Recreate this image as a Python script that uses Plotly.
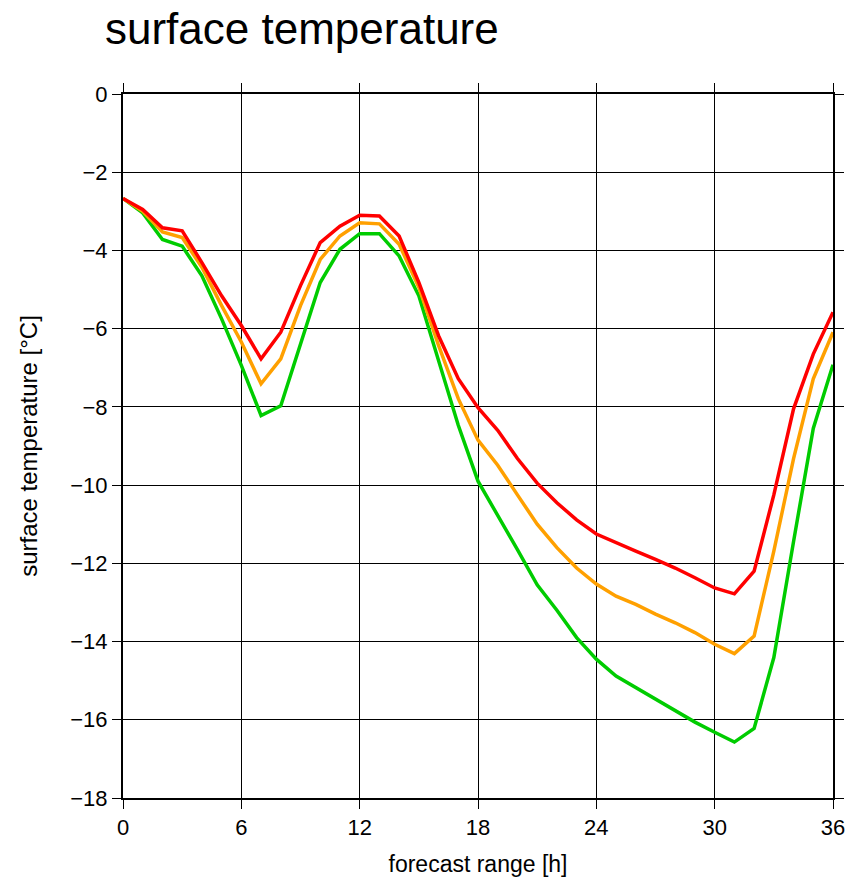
import plotly.graph_objects as go

hours = list(range(0, 37))
red = [-2.67, -2.95, -3.42, -3.50, -4.31, -5.16, -5.92, -6.77, -6.09, -4.90,
       -3.80, -3.38, -3.10, -3.12, -3.63, -4.82, -6.18, -7.28, -8.02, -8.60,
       -9.32, -9.95, -10.45, -10.89, -11.25, -11.48, -11.69, -11.90, -12.12, -12.37,
       -12.63, -12.78, -12.20, -10.25, -8.05, -6.65, -5.58]
orange = [-2.67, -3.00, -3.53, -3.67, -4.43, -5.41, -6.34, -7.41, -6.77, -5.41,
          -4.23, -3.63, -3.29, -3.32, -3.84, -4.94, -6.43, -7.79, -8.85, -9.49,
          -10.25, -11.00, -11.60, -12.12, -12.53, -12.84, -13.05, -13.30, -13.52, -13.77,
          -14.07, -14.31, -13.86, -11.69, -9.32, -7.28, -6.09]
green = [-2.67, -3.04, -3.72, -3.89, -4.65, -5.75, -6.94, -8.22, -7.97, -6.43,
         -4.82, -3.97, -3.57, -3.57, -4.14, -5.16, -6.85, -8.47, -9.90, -10.76,
         -11.65, -12.55, -13.20, -13.90, -14.45, -14.88, -15.17, -15.47, -15.77, -16.06,
         -16.32, -16.57, -16.22, -14.41, -11.44, -8.55, -6.92]

x_ticks = [0, 6, 12, 18, 24, 30, 36]
y_ticks = [0, -2, -4, -6, -8, -10, -12, -14, -16, -18]

FONT = "Liberation Sans, Arial, sans-serif"

fig = go.Figure()
for vals, col in [(green, "#00cc00"), (orange, "#ffa000"), (red, "#ff0000")]:
    fig.add_trace(go.Scatter(x=hours, y=vals, mode="lines",
                             line=dict(color=col, width=3.5), showlegend=False))

axis_common = dict(showgrid=True, gridcolor="black", gridwidth=1,
                   showline=True, linecolor="black", linewidth=2, mirror="ticks",
                   ticks="outside", ticklen=9, tickcolor="black", tickwidth=1,
                   zeroline=False,
                   tickfont=dict(family=FONT, size=22, color="black"))

fig.update_xaxes(range=[0, 36], tickvals=x_ticks,
                 title=dict(text="forecast range [h]", standoff=16,
                            font=dict(family=FONT, size=23, color="black")),
                 **axis_common)
fig.update_yaxes(range=[-18, 0], tickvals=y_ticks,
                 title=dict(text="surface temperature [°C]", standoff=26,
                            font=dict(family=FONT, size=24, color="black")),
                 **axis_common)

fig.update_layout(
    width=850, height=877,
    margin=dict(l=115, r=25, t=86, b=84),
    paper_bgcolor="white", plot_bgcolor="white",
    title=dict(text="surface temperature", x=97/850, xanchor="left",
               yref="container", y=1, yanchor="top", pad=dict(t=5),
               font=dict(family=FONT, size=44, color="black")),
)

fig.write_html("out.html")
